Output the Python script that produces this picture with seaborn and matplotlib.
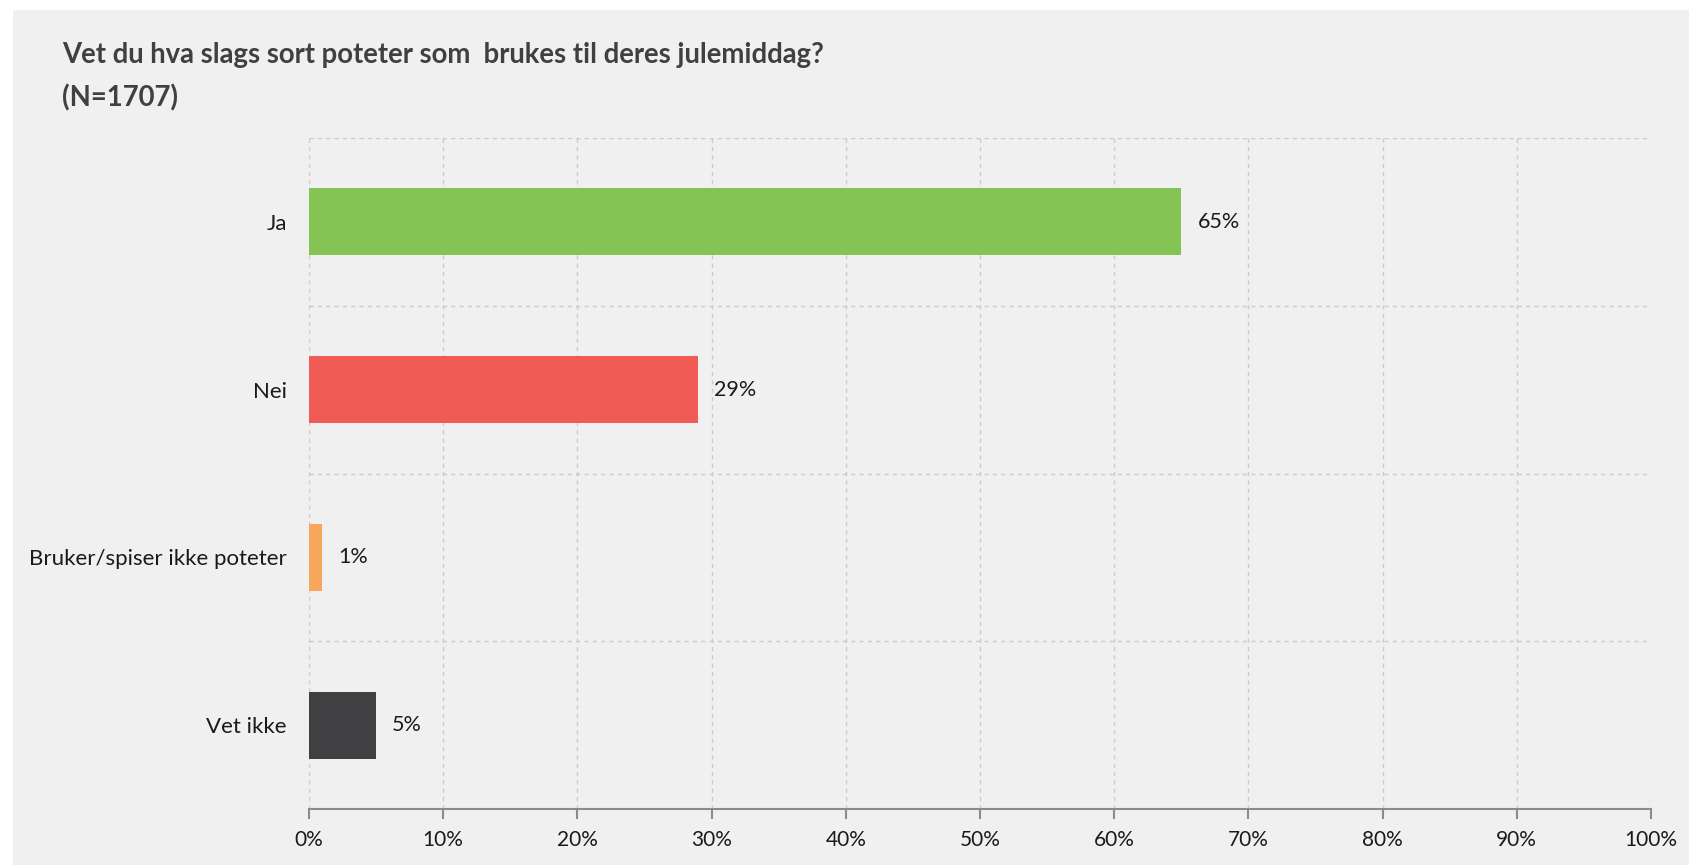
import matplotlib
matplotlib.use("Agg")
import matplotlib.pyplot as plt
from matplotlib.patches import Rectangle
from matplotlib.ticker import FixedLocator, PercentFormatter
import seaborn as sns
import pandas as pd

categories = ["Ja", "Nei", "Bruker/spiser ikke poteter", "Vet ikke"]
values = [65, 29, 1, 5]
colors = ["#85C454", "#F05B56", "#F8A65B", "#404042"]
title = "Vet du hva slags sort poteter som  brukes til deres julemiddag?\n(N=1707)"

df = pd.DataFrame({"cat": categories, "val": values})

sns.set_theme(style="white")
plt.rcParams["font.family"] = ["Lato", "DejaVu Sans"]

W, H = 1690, 865
fig = plt.figure(figsize=(W / 100, H / 100), dpi=100)
fig.patch.set_facecolor("white")
bg = "#F0F0F0"
fig.patches.append(Rectangle((13 / W, 0), 1 - 13 / W, (H - 10) / H,
                             transform=fig.transFigure, facecolor=bg,
                             edgecolor="none", zorder=-10))

ax = fig.add_axes([309 / W, (H - 809) / H, (1651 - 309) / W, (809 - 138) / H])
ax.set_facecolor(bg)

sns.barplot(data=df, x="val", y="cat", hue="cat", palette=colors,
            order=categories, hue_order=categories, legend=False,
            width=0.4, saturation=1, linewidth=0, ax=ax, zorder=3)

ax.set_xlim(0, 100)
ax.set_ylim(3.5, -0.5)
ax.xaxis.set_major_locator(FixedLocator(range(0, 101, 10)))
ax.xaxis.set_major_formatter(PercentFormatter(decimals=0))
ax.yaxis.set_minor_locator(FixedLocator([-0.5, 0.5, 1.5, 2.5]))

gridkw = dict(color="#CBCBCB", linestyle=(0, (3, 3)), linewidth=1, zorder=0)
ax.grid(axis="x", which="major", **gridkw)
ax.grid(axis="y", which="minor", **gridkw)
ax.grid(axis="y", which="major", visible=False)

for s in ["top", "right", "left"]:
    ax.spines[s].set_visible(False)
ax.spines["bottom"].set_color("#8C8C8C")
ax.spines["bottom"].set_linewidth(1.5)

ax.tick_params(axis="x", which="major", bottom=True, length=7, width=1.5,
               color="#8C8C8C", labelsize=15, labelcolor="#1A1A1A", pad=8)
ax.tick_params(axis="y", which="both", left=False, labelsize=16,
               labelcolor="#1A1A1A", pad=10)
ax.set_xlabel("")
ax.set_ylabel("")

for i, v in enumerate(values):
    ax.text(v + 1.2, i, f"{v}%", va="center", ha="left", fontsize=15.5, color="#1A1A1A")

fig.text(62 / W, 1 - 77 / H, title, ha="left", va="center", fontsize=19.8,
         fontweight="bold", color="#404040", linespacing=1.75)

fig.savefig("out.png", dpi=100, facecolor=fig.get_facecolor())
